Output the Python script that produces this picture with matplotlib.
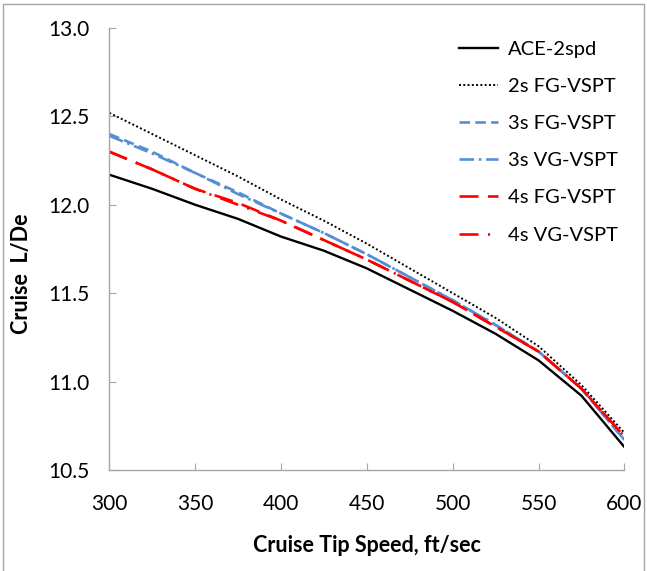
import numpy as np
from matplotlib import pyplot as plt
from matplotlib.patches import Rectangle

plt.rcParams["font.family"] = ["Lato", "DejaVu Sans"]

tip_speed = [300, 325, 350, 375, 400, 425, 450, 475, 500, 525, 550, 575, 600]

ace_2spd = [12.17, 12.09, 12.00, 11.92, 11.82, 11.74, 11.64, 11.52, 11.40, 11.27, 11.12, 10.92, 10.63]
fg2_vspt = [12.52, 12.40, 12.28, 12.16, 12.03, 11.91, 11.78, 11.64, 11.50, 11.36, 11.20, 10.98, 10.71]
fg3_vspt = [12.40, 12.30, 12.18, 12.07, 11.95, 11.84, 11.72, 11.59, 11.46, 11.32, 11.17, 10.96, 10.67]
vg3_vspt = [12.39, 12.29, 12.18, 12.06, 11.95, 11.84, 11.72, 11.59, 11.46, 11.32, 11.17, 10.96, 10.67]
fg4_vspt = [12.30, 12.20, 12.09, 12.01, 11.91, 11.80, 11.69, 11.57, 11.45, 11.31, 11.17, 10.96, 10.69]
vg4_vspt = [12.30, 12.20, 12.09, 12.00, 11.91, 11.80, 11.69, 11.57, 11.45, 11.31, 11.17, 10.96, 10.69]

azul = "#558ED5"
vermelho = "#FF0000"

fig = plt.figure(figsize=(6.47, 5.71), dpi=100)
ax = fig.add_axes([0.169, 0.177, 0.796, 0.774])

ax.plot(tip_speed, ace_2spd, color="black", lw=1.7, label="ACE-2spd")
ax.plot(tip_speed, fg2_vspt, color="black", lw=1.4, linestyle=(0, (1, 1.2)), label="2s FG-VSPT")
ax.plot(tip_speed, fg3_vspt, color=azul, lw=1.9, linestyle=(0, (4, 2)), label="3s FG-VSPT")
ax.plot(tip_speed, vg3_vspt, color=azul, lw=1.9, linestyle=(0, (5.5, 1.8, 1, 1.8)), label="3s VG-VSPT")
ax.plot(tip_speed, fg4_vspt, color=vermelho, lw=1.9, linestyle=(0, (7.2, 3.6)), label="4s FG-VSPT")
ax.plot(tip_speed, vg4_vspt, color=vermelho, lw=1.9, linestyle=(0, (7.2, 3.6, 0.8, 3.6)), label="4s VG-VSPT")

ax.set_xlim(300, 600)
ax.set_ylim(10.5, 13.0)
ax.set_xticks(np.arange(300, 601, 50))
ax.set_yticks(np.arange(10.5, 13.01, 0.5))
ax.yaxis.set_major_formatter(plt.FormatStrFormatter("%.1f"))

for lado in ["top", "right"]:
    ax.spines[lado].set_visible(False)
for lado in ["left", "bottom"]:
    ax.spines[lado].set_color("#A6A6A6")
    ax.spines[lado].set_linewidth(1.0)

ax.tick_params(axis="both", direction="in", length=5, color="#A6A6A6", labelsize=15)
ax.tick_params(axis="y", pad=14)
ax.tick_params(axis="x", pad=17)

ax.set_xlabel("Cruise Tip Speed, ft/sec", fontsize=15.5, fontweight="bold")
ax.set_ylabel("Cruise  L/De", fontsize=15.5, fontweight="bold")
ax.xaxis.set_label_coords(0.5, -0.147)
ax.yaxis.set_label_coords(-0.151, 0.443)

leg = ax.legend(
    loc="upper left",
    bbox_to_anchor=(0.664, 0.99),
    frameon=False,
    fontsize=14.5,
    handlelength=1.9,
    handletextpad=0.5,
    labelspacing=1.0,
    borderaxespad=0,
)

# moldura cinza em volta da figura toda
fig.patches.append(
    Rectangle((3 / 647, -0.01), 641 / 647, 1 - 4 / 571 + 0.01,
              transform=fig.transFigure, fill=False, edgecolor="#A6A6A6", lw=1.0)
)

plt.savefig("out.png", dpi=100)
plt.close()
